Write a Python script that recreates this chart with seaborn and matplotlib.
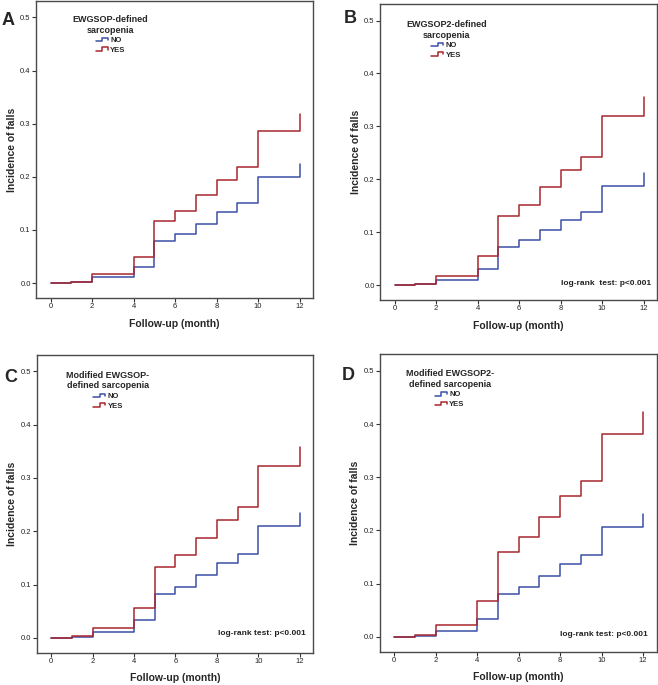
import pandas as pd
import matplotlib
matplotlib.use("Agg")
import matplotlib.pyplot as plt
import seaborn as sns
from matplotlib.legend_handler import HandlerBase
from matplotlib.lines import Line2D

# months at which the curves step (12 repeated for the final jump)
months = [0, 1, 2, 4, 5, 6, 7, 8, 9, 10, 12, 12]
groups = ["NO", "YES"]

# panel A - EWGSOP
a_no = [0, 0.002, 0.011, 0.031, 0.079, 0.092, 0.111, 0.133, 0.150, 0.200, 0.200, 0.225]
a_yes = [0, 0.003, 0.017, 0.049, 0.117, 0.136, 0.166, 0.194, 0.218, 0.286, 0.286, 0.319]
# panel B - EWGSOP2
b_no = [0, 0.002, 0.010, 0.030, 0.073, 0.085, 0.105, 0.124, 0.139, 0.187, 0.187, 0.212]
b_yes = [0, 0.003, 0.018, 0.055, 0.130, 0.152, 0.185, 0.218, 0.243, 0.320, 0.320, 0.356]
# panel C - modified EWGSOP
c_no = [0, 0.002, 0.011, 0.033, 0.082, 0.096, 0.118, 0.140, 0.157, 0.210, 0.210, 0.235]
c_yes = [0, 0.004, 0.019, 0.055, 0.132, 0.155, 0.188, 0.221, 0.246, 0.323, 0.323, 0.359]
# panel D - modified EWGSOP2
d_no = [0, 0.002, 0.011, 0.033, 0.080, 0.094, 0.115, 0.137, 0.154, 0.206, 0.206, 0.231]
d_yes = [0, 0.003, 0.022, 0.067, 0.160, 0.187, 0.226, 0.264, 0.294, 0.381, 0.381, 0.423]

titles = ["EWGSOP-defined\nsarcopenia", "EWGSOP2-defined\nsarcopenia",
          "Modified EWGSOP-\ndefined sarcopenia", "Modified EWGSOP2-\ndefined sarcopenia"]
letters = ["A", "B", "C", "D"]
pvals = [None, "log-rank  test: p<0.001", "log-rank test: p<0.001", "log-rank test: p<0.001"]
x_ticks = [0, 2, 4, 6, 8, 10, 12]
y_ticks = [0.0, 0.1, 0.2, 0.3, 0.4, 0.5]

colors = {"NO": "#3b50a6", "YES": "#a8272f"}

sns.set_theme(style="white")
plt.rcParams["font.family"] = ["Liberation Sans", "DejaVu Sans"]


class StepHandler(HandlerBase):
    # little step-shaped legend key like the SPSS one
    def create_artists(self, legend, orig_handle, xdescent, ydescent,
                       width, height, fontsize, trans):
        x0 = -xdescent
        y0 = -ydescent
        x = [x0, x0 + 0.55 * width, x0 + 0.55 * width, x0 + width, x0 + width]
        y = [y0 + 0.15 * height, y0 + 0.15 * height, y0 + 0.85 * height,
             y0 + 0.85 * height, y0 + 0.45 * height]
        ln = Line2D(x, y, color=orig_handle.get_color(), lw=1.1)
        ln.set_transform(trans)
        return [ln]


fig = plt.figure(figsize=(6.58, 6.85), dpi=100)
rects = [
    [0.0547, 0.5650, 0.421, 0.4336],
    [0.5775, 0.5620, 0.421, 0.4320],
    [0.0558, 0.0472, 0.420, 0.4346],
    [0.5770, 0.0486, 0.421, 0.4339],
]
letter_pos = [(0.002, 0.970), (0.523, 0.973), (0.006, 0.449), (0.520, 0.452)]
pval_pos = [None, (0.978, 0.057), (0.972, 0.063), (0.967, 0.059)]
legend_pos = [(0.127, 0.957), (0.088, 0.951), (0.102, 0.951), (0.088, 0.955)]

panels = [(a_no, a_yes), (b_no, b_yes), (c_no, c_yes), (d_no, d_yes)]

for i, (no_vals, yes_vals) in enumerate(panels):
    ax = fig.add_axes(rects[i])
    df = pd.DataFrame({
        "month": months * 2,
        "incidence": no_vals + yes_vals,
        "group": ["NO"] * len(months) + ["YES"] * len(months),
    })
    sns.lineplot(data=df, x="month", y="incidence", hue="group", palette=colors,
                 estimator=None, sort=False, drawstyle="steps-post",
                 linewidth=1.1, legend=False, ax=ax)

    ax.set_xlim(-0.7, 12.65)
    ax.set_ylim(-0.028, 0.531)
    ax.set_xticks(x_ticks)
    ax.set_yticks(y_ticks)
    ax.set_yticklabels([f"{v:.1f}" for v in y_ticks])
    ax.tick_params(axis="both", direction="out", length=3, width=0.8, color="#333333",
                   labelsize=5.5, pad=0.8, labelcolor="#222222",
                   bottom=True, left=True)
    for sp in ax.spines.values():
        sp.set_color("#4a4a4a")
        sp.set_linewidth(1.0)

    ax.set_xlabel("Follow-up (month)", fontsize=7.5, fontweight="bold", labelpad=6)
    ax.set_ylabel("Incidence of falls", fontsize=7.5, fontweight="bold", labelpad=2.5)

    handles = [Line2D([], [], color=colors[g]) for g in groups]
    leg = ax.legend(handles, groups, title=titles[i], loc="upper left",
                    bbox_to_anchor=legend_pos[i], frameon=False,
                    handler_map={Line2D: StepHandler()},
                    handlelength=1.6, handletextpad=0.3, labelspacing=0.3,
                    borderpad=0.2, borderaxespad=0,
                    prop={"size": 5.5, "weight": "bold"},
                    title_fontproperties={"size": 6.5, "weight": "bold"})
    leg.get_title().set_multialignment("center")

    if pvals[i]:
        ax.text(pval_pos[i][0], pval_pos[i][1], pvals[i], transform=ax.transAxes,
                ha="right", va="center", fontsize=6, fontweight="bold", color="#222222")

    fig.text(letter_pos[i][0], letter_pos[i][1], letters[i], fontsize=13,
             fontweight="bold", ha="left", va="center")

fig.savefig("out.png", dpi=100)
